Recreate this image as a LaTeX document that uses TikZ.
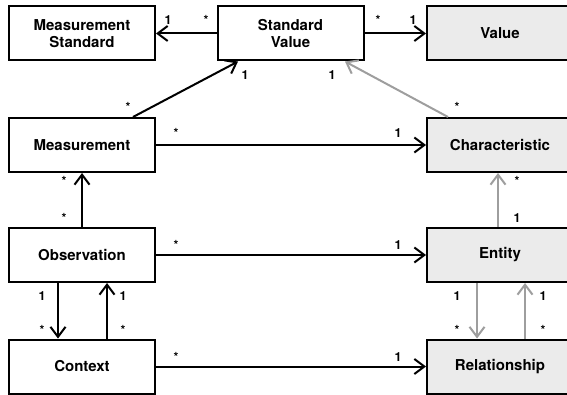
\documentclass[tikz,border=0pt]{standalone}
\usepackage{fontspec}
\setmainfont{TeX Gyre Heros}
\usetikzlibrary{arrows.meta}

\newlength{\du}
\setlength{\du}{1pt}

\definecolor{boxgray}{rgb}{0.922, 0.922, 0.922}
\definecolor{linkgray}{rgb}{0.620, 0.620, 0.620}

\tikzset{
  box/.style={draw=black, line width=2\du, fill=white, minimum width=146\du,
    minimum height=54\du, inner sep=0pt, align=center,
    font=\fontsize{15}{17}\selectfont\bfseries},
  gbox/.style={box, fill=boxgray},
  lbl/.style={inner sep=0pt, font=\fontsize{12.5}{14}\selectfont\bfseries},
  link/.style={draw=black, line width=2\du,
    -{Straight Barb[length=10pt, width=15pt, line width=2pt]}},
  glink/.style={link, draw=linkgray}
}

\begin{document}
\begin{tikzpicture}
\pgftransformxscale{1.000000}
\pgftransformyscale{-1.000000}
\useasboundingbox (0\du,0\du) rectangle (567\du,395\du);

% boxes
\node[box]  (mstd) at (82\du,33.5\du)    {Measurement\\Standard};
\node[box]  (sval) at (290.5\du,33.5\du) {Standard\\Value};
\node[gbox] (val)  at (500\du,33.5\du)   {Value};
\node[box]  (meas) at (82\du,145\du)     {Measurement};
\node[gbox] (chr)  at (500\du,145\du)    {Characteristic};
\node[box]  (obs)  at (82\du,255\du)     {Observation};
\node[gbox] (ent)  at (500\du,255\du)    {Entity};
\node[box]  (ctx)  at (82\du,366.5\du)   {Context};
\node[gbox] (rel)  at (500\du,366.5\du)  {Relationship};

% black links
\draw[link] (sval.west) -- (mstd.east);
\draw[link] (sval.east) -- (val.west);
\draw[link] ([xshift=51\du]meas.north) -- ([xshift=-52.5\du]sval.south);
\draw[link] (meas.east) -- (chr.west);
\draw[link] (obs.north) -- (meas.south);
\draw[link] (obs.east) -- (ent.west);
\draw[link] ([xshift=-24\du]obs.south) -- ([xshift=-24\du]ctx.north);
\draw[link] ([xshift=25\du]ctx.north) -- ([xshift=25\du]obs.south);
\draw[link] (ctx.east) -- (rel.west);

% gray links
\draw[glink] ([xshift=-52\du]chr.north) -- ([xshift=54.5\du]sval.south);
\draw[glink] ([xshift=-2\du]ent.north) -- ([xshift=-2\du]chr.south);
\draw[glink] ([xshift=-23\du]ent.south) -- ([xshift=-23\du]rel.north);
\draw[glink] ([xshift=25\du]rel.north) -- ([xshift=25\du]ent.south);

% multiplicities
\node[lbl] (m1)  at (168\du,20\du)  {1};
\node[lbl] (m2)  at (206\du,20\du)  {*};
\node[lbl] (m3)  at (378\du,20\du)  {*};
\node[lbl] (m4)  at (413\du,20\du)  {1};
\node[lbl] (m5)  at (245\du,75\du)  {1};
\node[lbl] (m6)  at (128\du,107\du) {*};
\node[lbl] (m7)  at (332\du,75\du)  {1};
\node[lbl] (m8)  at (457\du,107\du) {*};
\node[lbl] (m9)  at (176\du,133\du) {*};
\node[lbl] (m10) at (398\du,133\du) {1};
\node[lbl] (m11) at (64\du,181\du)  {*};
\node[lbl] (m12) at (64\du,218\du)  {*};
\node[lbl] (m13) at (176\du,245\du) {*};
\node[lbl] (m14) at (398\du,245\du) {1};
\node[lbl] (m15) at (42\du,296\du)  {1};
\node[lbl] (m16) at (42\du,330\du)  {*};
\node[lbl] (m17) at (123\du,296\du) {1};
\node[lbl] (m18) at (123\du,330\du) {*};
\node[lbl] (m19) at (176\du,357\du) {*};
\node[lbl] (m20) at (398\du,357\du) {1};
\node[lbl] (m21) at (517\du,181\du) {*};
\node[lbl] (m22) at (517\du,218\du) {1};
\node[lbl] (m23) at (457\du,296\du) {1};
\node[lbl] (m24) at (457\du,330\du) {*};
\node[lbl] (m25) at (543\du,296\du) {1};
\node[lbl] (m26) at (543\du,330\du) {*};
\end{tikzpicture}
\end{document}
